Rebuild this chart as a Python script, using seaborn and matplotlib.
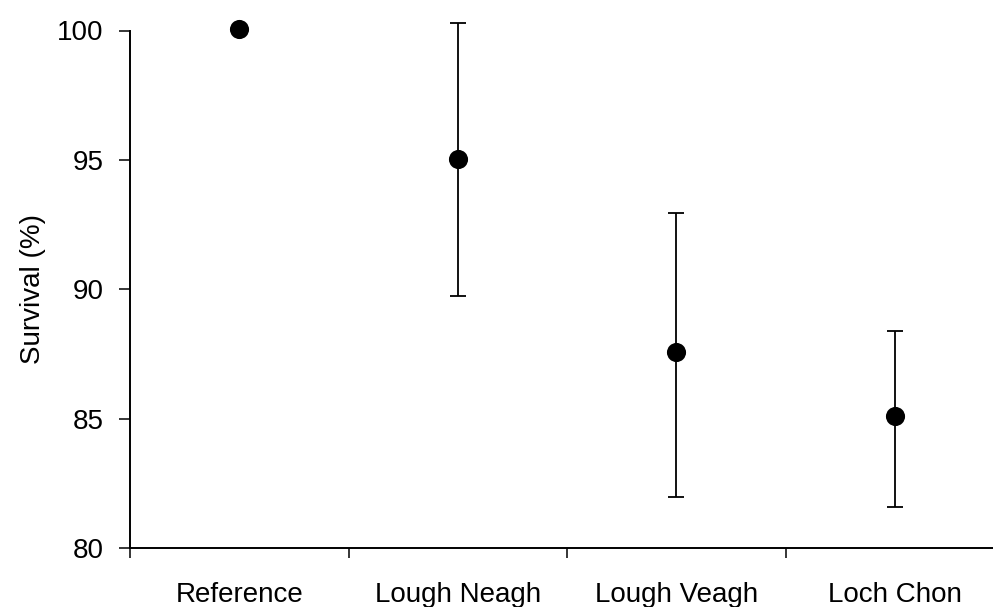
import matplotlib
matplotlib.use("Agg")
import matplotlib.pyplot as plt
import seaborn as sns
import numpy as np
import pandas as pd
from matplotlib.ticker import FixedLocator, NullFormatter, FixedFormatter

# Data
sites = ["Reference", "Lough Neagh", "Lough Veagh", "Loch Chon"]
survival = [100.05, 95.05, 87.6, 85.1]
err_low = [0.0, 5.3, 5.6, 3.5]
err_high = [0.0, 5.25, 5.35, 3.3]
y_ticks = [80, 85, 90, 95, 100]

sns.set_theme(style="white")
plt.rcParams["font.family"] = ["Liberation Sans", "DejaVu Sans"]

fig = plt.figure(figsize=(9.93, 6.07), dpi=100)
ax = fig.add_axes([130 / 993, 1 - 548.3 / 607, 874 / 993, (548.3 - 30.5) / 607])

df = pd.DataFrame({"site": sites, "survival": survival})
pos = np.arange(len(sites))

# error bars (skip zero-error reference)
has_err = [i for i in range(len(sites)) if err_low[i] > 0 or err_high[i] > 0]
ax.errorbar(pos[has_err], np.array(survival)[has_err],
            yerr=[np.array(err_low)[has_err], np.array(err_high)[has_err]],
            fmt="none", ecolor="black", elinewidth=1.3, capsize=6, capthick=1.3,
            zorder=2, clip_on=False)

sns.scatterplot(data=df, x="site", y="survival", ax=ax, color="black",
                s=190, edgecolor="black", linewidth=0, zorder=3, clip_on=False)

ax.set_xlim(-0.5, len(sites) - 0.5)
ax.set_ylim(80, 100)
ax.set_yticks(y_ticks)
ax.set_yticklabels([str(t) for t in y_ticks])

# x: major ticks at category boundaries (no labels), minor at centers (labels)
ax.xaxis.set_major_locator(FixedLocator(np.arange(-0.5, len(sites), 1.0)))
ax.xaxis.set_major_formatter(NullFormatter())
ax.xaxis.set_minor_locator(FixedLocator(pos))
ax.xaxis.set_minor_formatter(FixedFormatter(sites))
ax.tick_params(axis="x", which="major", direction="out", length=10 * 0.72,
               width=1.1, color="black", bottom=True)
ax.tick_params(axis="x", which="minor", length=0, pad=24, labelsize=20,
               labelcolor="black", bottom=True)
ax.tick_params(axis="y", which="major", direction="out", length=8, width=1.1,
               color="black", pad=11, labelsize=20, labelcolor="black", left=True)

ax.set_xlabel("")
ax.set_ylabel("Survival (%)", fontsize=20, color="black", labelpad=8)

for side in ["top", "right"]:
    ax.spines[side].set_visible(False)
for side in ["left", "bottom"]:
    ax.spines[side].set_color("black")
    ax.spines[side].set_linewidth(1.4)

ax.grid(False)
fig.savefig("out.png", dpi=100, facecolor="white")
